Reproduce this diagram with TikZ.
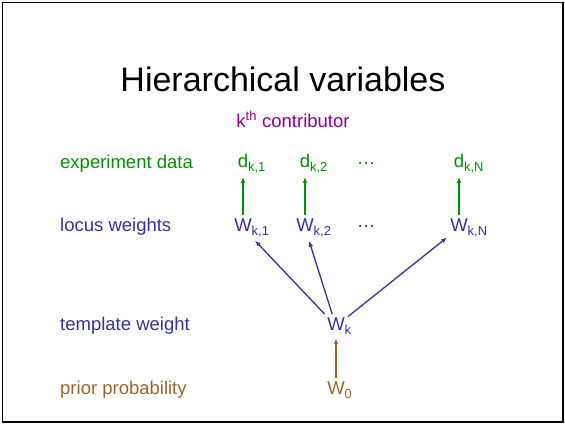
\documentclass[tikz,border=0pt]{standalone}
\usepackage{fontspec}
\setmainfont{Liberation Sans}
\usetikzlibrary{arrows.meta}
\definecolor{datagreen}{RGB}{0,145,0}
\definecolor{weightblue}{RGB}{51,51,153}
\definecolor{priorbrown}{RGB}{153,102,51}
\definecolor{kpurple}{RGB}{140,0,140}
\newcommand{\vsub}[2]{#1\rlap{\raisebox{-1.5pt}{\textsubscript{#2}}}}
\tikzset{
  every picture/.style={font=\fontsize{18.5}{22}\selectfont},
  rowlabel/.style={anchor=base west,inner sep=0pt},
  var/.style={anchor=base,inner sep=3pt},
  link/.style={line width=1.3pt,-{Latex[length=6pt,width=4.5pt]}},
}
\begin{document}
\begin{tikzpicture}[x=1pt,y=-1pt]
  \useasboundingbox (0,0) rectangle (565,424);
  \draw[line width=1.5pt] (2.5,2.5) rectangle (563,422);
  \node[anchor=base,font=\fontsize{34}{40}\selectfont] (title) at (283,91) {Hierarchical variables};
  \node[anchor=base,kpurple] (contrib) at (293,127) {k\textsuperscript{th} contributor};
  % row labels
  \node[rowlabel,datagreen] (lbldata) at (60,168) {experiment data};
  \node[rowlabel,weightblue] (lbllocus) at (60,231) {locus weights};
  \node[rowlabel,weightblue] (lbltemplate) at (60,330) {template weight};
  \node[rowlabel,priorbrown] (lblprior) at (60,394) {prior probability};
  % data row
  \node[var,datagreen] (d1) at (243,167) {\vsub{d}{k,1}};
  \node[var,datagreen] (d2) at (305,167) {\vsub{d}{k,2}};
  \node[var,datagreen] (ddots) at (366,164) {\dots};
  \node[var,datagreen] (dN) at (459,167) {\vsub{d}{k,N}};
  % weight rows
  \node[var,weightblue] (w1) at (243,231) {\vsub{W}{k,1}};
  \node[var,weightblue] (w2) at (305,231) {\vsub{W}{k,2}};
  \node[var,weightblue] (wdots) at (366,227) {\dots};
  \node[var,weightblue] (wN) at (459,231) {\vsub{W}{k,N}};
  \node[var,weightblue] (wk) at (336,330) {\vsub{W}{k}};
  \node[var,priorbrown] (w0) at (336,394) {\vsub{W}{0}};
  % links
  \draw[link,datagreen] (w1) -- (d1);
  \draw[link,datagreen] (w2) -- (d2);
  \draw[link,datagreen] (wN) -- (dN);
  \draw[link,weightblue] (wk) -- (w1);
  \draw[link,weightblue] (wk) -- (w2);
  \draw[link,weightblue] (wk) -- (wN);
  \draw[link,priorbrown] (w0) -- (wk);
\end{tikzpicture}
\end{document}
